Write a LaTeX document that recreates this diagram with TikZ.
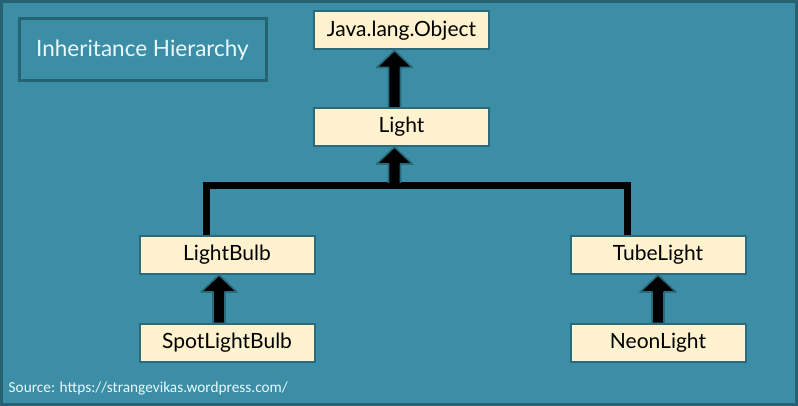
\documentclass[tikz,border=0pt]{standalone}
\usepackage{fontspec}
\setmainfont{Lato}
\newfontfamily\srcfont{Carlito}
\usetikzlibrary{calc}
\definecolor{bgteal}{RGB}{59,142,165}
\definecolor{dkteal}{RGB}{42,106,124}
\definecolor{frameteal}{RGB}{38,98,115}
\definecolor{cream}{RGB}{255,242,206}
\definecolor{lighttxt}{RGB}{235,250,255}
\newcommand\inharrow[2]{%
  \filldraw[head] let \p1=(#1), \p2=(#2) in
    (\x2-6pt,\y1) -- (\x2-6pt,\y2-17pt) -- (\x2-18pt,\y2-17pt) -- (\x2,\y2)
    -- (\x2+18pt,\y2-17pt) -- (\x2+6pt,\y2-17pt) -- (\x2+6pt,\y1);}
\begin{document}
\begin{tikzpicture}[x=1pt,y=-1pt,
  cls/.style={draw=dkteal, line width=2pt, fill=cream, minimum width=175pt, minimum height=38pt, inner sep=0pt, font=\fontsize{21}{25}\selectfont, text=black},
  head/.style={fill=black, draw=dkteal, line width=1.6pt, line join=round},
  treebar/.style={line width=7pt, black, line join=miter}]
\useasboundingbox (0,0) rectangle (798,406);
\fill[bgteal] (0,0) rectangle (798,406);
\draw[frameteal, line width=3pt] (1.5,1.5) rectangle (796.5,404.5);
\node[draw=frameteal, line width=3pt, minimum width=247pt, minimum height=62pt, inner sep=0pt, text=lighttxt, font=\fontsize{22.5}{26}\selectfont] (title) at (142.5,50) {Inheritance Hierarchy};
\node[cls] (obj) at (401.5,30.5) {Java.lang.Object};
\node[cls] (light) at (401.5,127) {Light};
\node[cls] (lightbulb) at (227,255) {LightBulb};
\node[cls] (spot) at (227,342.5) {SpotLightBulb};
\node[cls] (tube) at (658,255) {TubeLight};
\node[cls] (neon) at (658,342.5) {NeonLight};
\coordinate (bar) at (394.5,186);
\draw[treebar] ([xshift=-21pt]lightbulb.north) |- (bar) -| ([xshift=-31pt]tube.north);
\inharrow{[xshift=-7pt]light.north}{[xshift=-7pt]obj.south}
\inharrow{[yshift=3pt]bar}{[xshift=-7pt]light.south}
\inharrow{[xshift=-8pt]spot.north}{[xshift=-8pt]lightbulb.south}
\inharrow{neon.north}{tube.south}
\node[anchor=west, inner sep=0pt, text=lighttxt, font=\srcfont\fontsize{15.3}{18}\selectfont] (src) at (8.5,389) {Source: https://strangevikas.wordpress.com/};
\end{tikzpicture}
\end{document}
